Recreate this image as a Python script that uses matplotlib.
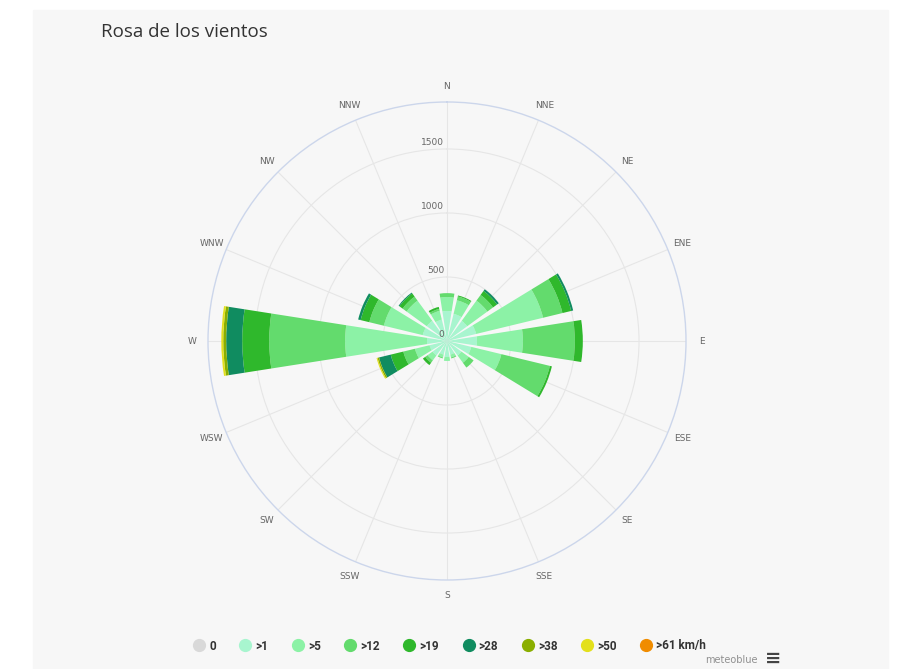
import numpy as np
import matplotlib
matplotlib.use("Agg")
import matplotlib.pyplot as plt
from matplotlib.lines import Line2D
from matplotlib.patches import Rectangle

# wind directions, clockwise from north
dirs = ["N", "NNE", "NE", "ENE", "E", "ESE", "SE", "SSE",
        "S", "SSW", "SW", "WSW", "W", "WNW", "NW", "NNW"]

# hours per speed class (km/h)
calm = [0, 0, 0, 0, 0, 0, 0, 0, 0, 0, 0, 0, 0, 0, 0, 0]
s1 = [234, 218, 195, 234, 234, 195, 140, 109, 125, 109, 140, 140, 156, 195, 195, 172]
s5 = [109, 109, 195, 538, 359, 242, 70, 23, 31, 23, 47, 117, 640, 312, 195, 70]
s12 = [31, 31, 55, 156, 406, 390, 47, 8, 0, 8, 23, 94, 593, 117, 39, 16]
s19 = [0, 8, 39, 70, 62, 16, 0, 0, 0, 0, 23, 101, 211, 70, 31, 16]
s28 = [0, 0, 16, 16, 0, 0, 0, 0, 0, 0, 0, 94, 125, 20, 8, 0]
s38 = [0, 0, 0, 0, 0, 0, 0, 0, 0, 0, 0, 12, 23, 0, 0, 0]
s50 = [0, 0, 0, 0, 0, 0, 0, 0, 0, 0, 0, 8, 15, 0, 0, 0]
s61 = [0, 0, 0, 0, 0, 0, 0, 0, 0, 0, 0, 0, 0, 0, 0, 0]

classes = ["0", ">1", ">5", ">12", ">19", ">28", ">38", ">50", ">61 km/h"]
colors = ["#d9d9d9", "#a8f5cf", "#8cf2a6", "#63db6d", "#2fb82c",
          "#108c60", "#8aae00", "#e3e01c", "#f08c00"]
series = [calm, s1, s5, s12, s19, s28, s38, s50, s61]

radial_ticks = [500, 1000, 1500]
rmax = 1867

fig = plt.figure(figsize=(9.15, 6.69), dpi=100)
fig.patches.append(Rectangle((33 / 915, 0), 855 / 915, 659 / 669,
                             transform=fig.transFigure, color="#f7f7f7", zorder=-1))

ax = fig.add_axes([208 / 915, 89 / 669, 478 / 915, 478 / 669], projection="polar")
ax.set_facecolor("none")
ax.set_theta_zero_location("N")
ax.set_theta_direction(-1)
ax.set_axisbelow(True)

theta = np.deg2rad(np.arange(16) * 22.5)
width = np.deg2rad(17.8)
bottom = np.zeros(16)
for vals, c in zip(series, colors):
    vals = np.array(vals, dtype=float)
    ax.bar(theta, vals, width=width, bottom=bottom, color=c,
           linewidth=0, zorder=3)
    bottom += vals

ax.set_ylim(0, rmax)
ax.set_yticks(radial_ticks)
ax.set_yticklabels([])
ax.set_xticks(theta)
ax.set_xticklabels([])
ax.tick_params(axis="x", length=0)
ax.grid(True, color="#e6e6e6", linewidth=0.8)
ax.spines["polar"].set_color("#ccd6eb")
ax.spines["polar"].set_linewidth(1)

# direction labels sit on a ring just outside the plot
for t, d in zip(theta, dirs):
    ax.text(t, rmax * 1.065, d, ha="center", va="center", fontsize=6.5,
            color="#666666", clip_on=False)

for v in [0] + radial_ticks:
    ax.annotate(str(v), xy=(0, v), xytext=(-2, 1.5), textcoords="offset points",
                ha="right", va="bottom", fontsize=6.5, color="#666666", zorder=5)

fig.text(101 / 915, 1 - 32 / 669, "Rosa de los vientos", fontsize=13.5,
         family="Open Sans", color="#333333", va="center", ha="left")

handles = [Line2D([], [], marker="o", linestyle="none", markersize=8.5,
                  markerfacecolor=c, markeredgecolor=c) for c in colors]
leg = fig.legend(handles, classes, ncol=9, frameon=False, loc="center",
                 bbox_to_anchor=(449 / 915, 1 - 646 / 669),
                 prop={"family": "Roboto", "weight": "bold", "size": 8.5},
                 handletextpad=0.25, columnspacing=1.9, handlelength=1.2)
for t in leg.get_texts():
    t.set_color("#333333")

fig.text(731 / 915, 1 - 660 / 669, "meteoblue", fontsize=7, color="#909090",
         ha="center", va="center")
fig.text(773 / 915, 1 - 658 / 669, "≡", fontsize=14, color="#444444",
         ha="center", va="center", weight="bold")

fig.savefig("out.png", dpi=100)
